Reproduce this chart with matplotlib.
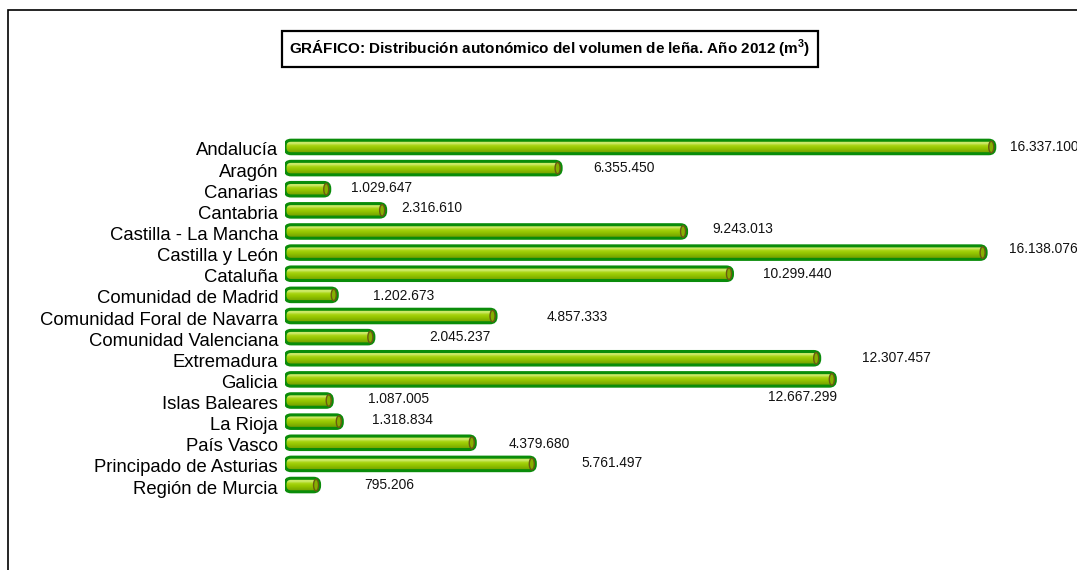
import matplotlib
matplotlib.use("Agg")
import numpy as np
import matplotlib.pyplot as plt
import matplotlib.transforms as mtransforms
from matplotlib.patches import Rectangle, FancyBboxPatch, Ellipse
from matplotlib.colors import LinearSegmentedColormap

plt.rcParams['font.family'] = ['Liberation Sans', 'DejaVu Sans']
plt.rcParams['mathtext.fontset'] = 'custom'
plt.rcParams['mathtext.rm'] = 'Liberation Sans'
plt.rcParams['mathtext.bf'] = 'Liberation Sans:bold'

regiones = ['Andalucía', 'Aragón', 'Canarias', 'Cantabria', 'Castilla - La Mancha',
            'Castilla y León', 'Cataluña', 'Comunidad de Madrid',
            'Comunidad Foral de Navarra', 'Comunidad Valenciana', 'Extremadura',
            'Galicia', 'Islas Baleares', 'La Rioja', 'País Vasco',
            'Principado de Asturias', 'Región de Murcia']
volumen = [16337100, 6355450, 1029647, 2316610, 9243013, 16138076, 10299440,
           1202673, 4857333, 2045237, 12307457, 12667299, 1087005, 1318834,
           4379680, 5761497, 795206]

# desplazamiento de las etiquetas (pixeles) respecto al final de la barra
off_x = [15, 32, 21, 16, 26, 23, 31, 36, 51, 55, 42, 2, 36, 30, 33, 46, 45]
off_y = [0, 0, 1, 2, 2, 4, 0, -1, -1, 0, 0, -18, 2, 2, -1, 1, 0]

def fmt(v):
    return '{:,}'.format(v).replace(',', '.')

XMAX = 18000000
fig = plt.figure(figsize=(10.77, 5.70), dpi=100)
ax_w, ax_h = 782, 359.2
ax = fig.add_axes([285 / 1077, 1 - 495.6 / 570, ax_w / 1077, ax_h / 570])
ax.set_xlim(0, XMAX)
ax.set_ylim(len(regiones) - 0.5, -0.5)

# unidades por pixel en cada eje
ux = XMAX / ax_w
uy = len(regiones) / ax_h
r_px = 6
aspect = (r_px * uy) / (r_px * ux)

grad = LinearSegmentedColormap.from_list(
    'cil', ['#a9d21c', '#d4ee78', '#a6d30e', '#93c400', '#7fad00', '#6f9800'])
g = np.linspace(0, 1, 64).reshape(-1, 1)

y = list(range(len(regiones)))
bars = ax.barh(y, volumen, height=0.64, color='#8cba06')
for i, b in enumerate(bars):
    x0, y0, w, h = b.get_x(), b.get_y(), b.get_width(), b.get_height()
    b.set_visible(False)
    caja = FancyBboxPatch((x0, y0), w, h,
                          boxstyle='round,pad=0,rounding_size=%f' % (r_px * ux),
                          mutation_aspect=aspect, fc='none', ec='#0a8c0a',
                          lw=2.2, zorder=3)
    ax.add_patch(caja)
    im = ax.imshow(g, cmap=grad, aspect='auto', extent=(x0, x0 + w, y0 + h, y0),
                   zorder=2, interpolation='bilinear')
    im.set_clip_path(caja)
    # tapa del cilindro
    ax.add_patch(Ellipse((x0 + w - 3.5 * ux, y0 + h / 2), 5 * ux, h * 0.85,
                         fc='#86b000', ec='#6a5a12', lw=1, zorder=3))

for i, v in enumerate(volumen):
    ha = 'right' if off_y[i] < -10 else 'left'
    ax.annotate(fmt(v), (v, i), xytext=(off_x[i], off_y[i]),
                textcoords='offset pixels', ha=ha, va='center',
                fontsize=9.9, color='#111111', annotation_clip=False)

ax.set_xlim(0, XMAX)
ax.set_ylim(len(regiones) - 0.5, -0.5)
ax.set_yticks(y)
ax.set_yticklabels(regiones, fontsize=13.3)
ax.tick_params(axis='y', length=0, pad=5)
bajar = mtransforms.ScaledTranslation(0, -2 / 100, fig.dpi_scale_trans)
for t in ax.get_yticklabels():
    t.set_transform(t.get_transform() + bajar)
ax.set_xticks([])
for s in ax.spines.values():
    s.set_visible(False)

fig.text(0.5107, 0.914,
         r'GRÁFICO: Distribución autonómico del volumen de leña. Año 2012 (m$^{\mathbf{3}}$)',
         ha='center', va='center', fontsize=11, fontweight='bold',
         bbox=dict(boxstyle='square,pad=0.45', fc='white', ec='black', lw=1.6))

fig.patches.append(Rectangle((8 / 1077, -0.1), 1.2, 1 - 10 / 570 + 0.1,
                             transform=fig.transFigure, fill=False,
                             ec='black', lw=1.2))

fig.savefig('out.png', dpi=100)
